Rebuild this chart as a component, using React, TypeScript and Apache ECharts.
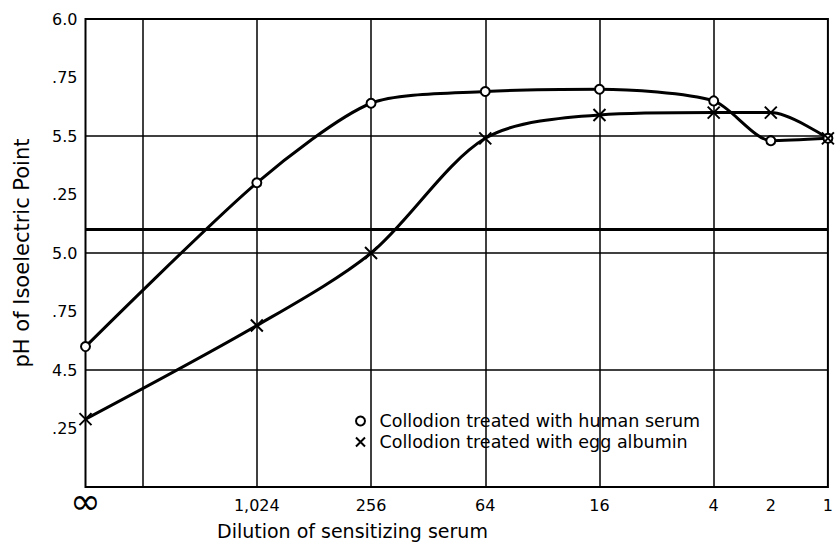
import React, { useEffect, useRef } from "react";
import * as echarts from "echarts";

// x positions are log4(dilution); "∞" is placed half a step past 4,096
const dilutionLabels = ["∞", "1,024", "256", "64", "16", "4", "2", "1"];
const dilutionPos = [6.5, 5, 4, 3, 2, 1, 0.5, 0];

const humanSerum = [4.6, 5.3, 5.64, 5.69, 5.7, 5.65, 5.48, 5.49];
const eggAlbumin = [4.29, 4.69, 5.0, 5.49, 5.59, 5.6, 5.6, 5.49];

const yTickValues = [6.0, 5.75, 5.5, 5.25, 5.0, 4.75, 4.5, 4.25];
const yTickLabels = ["6.0", ".75", "5.5", ".25", "5.0", ".75", "4.5", ".25"];

const verticalGrid = [6, 5, 4, 3, 2, 1];
const horizontalGrid = [4.5, 5.0, 5.5];
const referenceLine = 5.1;

const FONT = "DejaVu Sans";
const X_MARK = "path://M0,0L10,10M10,0L0,10";

export default function App() {
  const ref = useRef<HTMLDivElement>(null);

  useEffect(() => {
    if (!ref.current) return;
    const chart = echarts.init(ref.current, null, { renderer: "svg" });

    const xLabelMap: Record<string, string> = {};
    dilutionPos.forEach((p, i) => (xLabelMap[p.toFixed(2)] = dilutionLabels[i]));
    const yLabelMap: Record<string, string> = {};
    yTickValues.forEach((v, i) => (yLabelMap[v.toFixed(2)] = yTickLabels[i]));

    const human = dilutionPos.map((p, i) => [p, humanSerum[i]]);
    const egg = dilutionPos.map((p, i) => [p, eggAlbumin[i]]);

    chart.setOption({
      animation: false,
      backgroundColor: "#fff",
      textStyle: { fontFamily: FONT, color: "#000" },
      grid: {
        left: 85.5,
        right: -1,
        top: 19,
        bottom: 57,
        show: true,
        borderColor: "#000",
        borderWidth: 2,
        backgroundColor: "transparent",
      },
      legend: {
        orient: "vertical",
        left: 355,
        top: 412,
        padding: 0,
        itemGap: 3,
        itemWidth: 10,
        itemHeight: 9,
        selectedMode: false,
        textStyle: { fontFamily: FONT, fontSize: 17.5, color: "#000", padding: [0, 0, 0, 9] },
        data: [
          { name: "Collodion treated with human serum", icon: "emptyCircle" },
          { name: "Collodion treated with egg albumin", icon: X_MARK },
        ],
      },
      xAxis: {
        type: "value",
        inverse: true,
        min: 0,
        max: 6.5,
        interval: 0.5,
        axisLine: { show: false },
        axisTick: { show: false },
        splitLine: { show: false },
        axisLabel: {
          margin: 10,
          fontFamily: FONT,
          fontSize: 16,
          lineHeight: 16,
          color: "#000",
          formatter: (v: number) => {
            const s = xLabelMap[v.toFixed(2)];
            if (!s) return "";
            return s === "∞" ? "{inf|∞}" : s;
          },
          rich: {
            inf: { fontSize: 37, lineHeight: 8, fontFamily: FONT, color: "#000" },
          },
        },
      },
      yAxis: {
        type: "value",
        min: 4,
        max: 6,
        interval: 0.25,
        name: "pH of Isoelectric Point",
        nameLocation: "middle",
        nameGap: 53,
        nameTextStyle: { fontFamily: FONT, fontSize: 21, color: "#000" },
        axisLine: { show: false },
        axisTick: { show: false },
        splitLine: { show: false },
        axisLabel: {
          margin: 8,
          fontFamily: FONT,
          fontSize: 16,
          color: "#000",
          formatter: (v: number) => yLabelMap[v.toFixed(2)] ?? "",
        },
      },
      graphic: [
        {
          type: "text",
          left: 217,
          top: 521,
          style: {
            text: "Dilution of sensitizing serum",
            font: `19px "${FONT}"`,
            fill: "#000",
          },
        },
      ],
      series: [
        {
          name: "grid",
          type: "line",
          data: [],
          silent: true,
          markLine: {
            silent: true,
            symbol: ["none", "none"],
            label: { show: false },
            emphasis: { disabled: true },
            lineStyle: { type: "solid", color: "#000", width: 1.5 },
            data: [
              ...verticalGrid.map((v) => ({ xAxis: v })),
              ...horizontalGrid.map((v) => ({ yAxis: v })),
              { yAxis: referenceLine, lineStyle: { type: "solid", color: "#000", width: 3 } },
            ],
          },
        },
        {
          name: "Collodion treated with human serum",
          type: "line",
          data: human,
          smooth: 0.25,
          symbol: "emptyCircle",
          symbolSize: 9,
          lineStyle: { color: "#000", width: 3 },
          itemStyle: { color: "#000", borderColor: "#000", borderWidth: 1.5 },
          emphasis: { disabled: true },
          z: 5,
        },
        {
          name: "Collodion treated with egg albumin",
          type: "line",
          data: egg,
          smooth: 0.3,
          symbol: X_MARK,
          symbolSize: 12,
          lineStyle: { color: "#000", width: 3 },
          itemStyle: { color: "#000", borderColor: "#000", borderWidth: 2 },
          emphasis: { disabled: true },
          z: 5,
        },
      ],
    });

    return () => chart.dispose();
  }, []);

  return (
    <div
      ref={ref}
      style={{ position: "fixed", left: 0, top: 0, width: 836, height: 544 }}
    />
  );
}
